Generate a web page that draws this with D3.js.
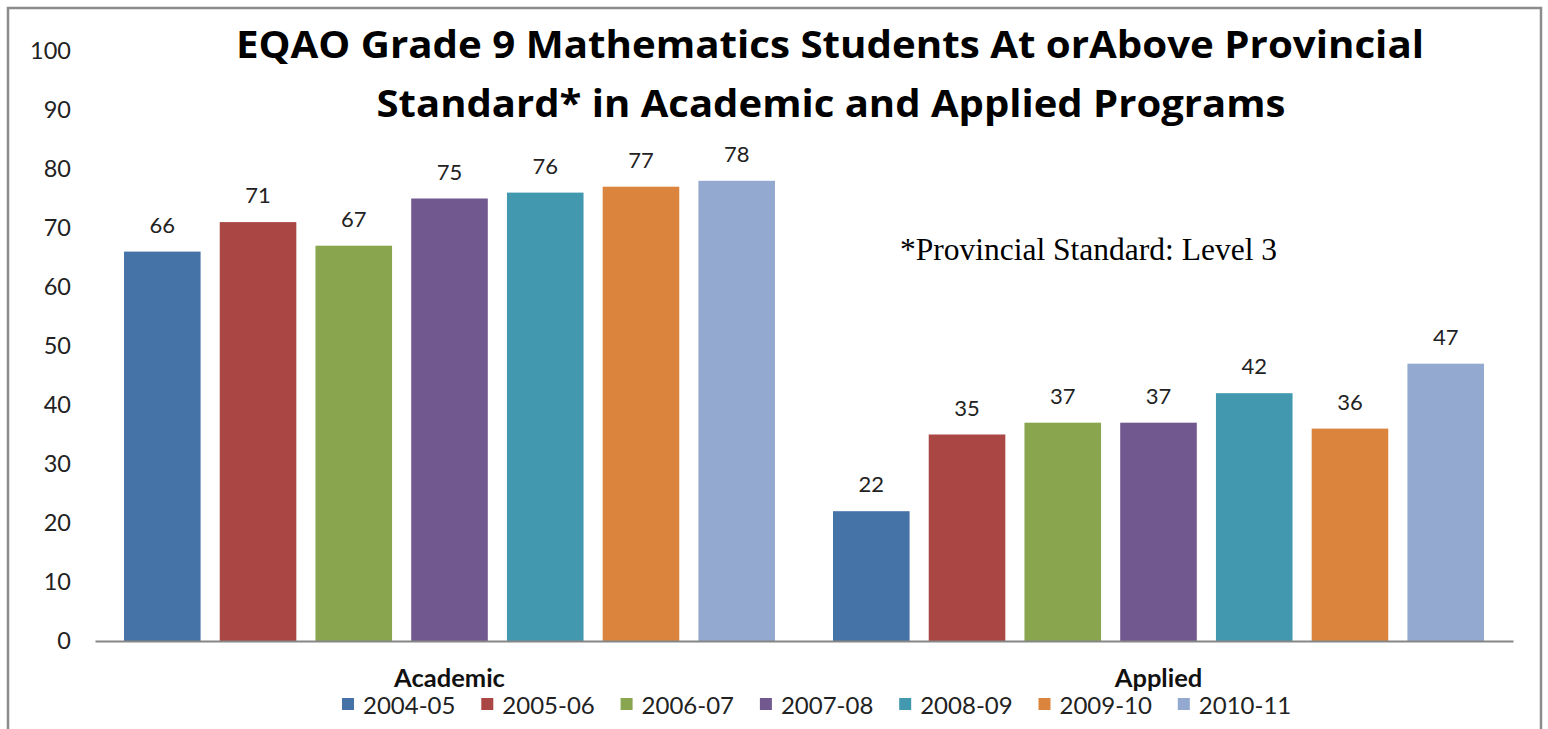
<!DOCTYPE html>
<html>
<head>
<meta charset="utf-8">
<script src="https://cdn.jsdelivr.net/npm/d3@7"></script>
<style>
  body { margin: 0; background: #fff; }
  svg { display: block; }
</style>
</head>
<body>
<div id="app"></div>
<script>
// data
const programs = ['Academic', 'Applied'];
const years = ['2004-05', '2005-06', '2006-07', '2007-08', '2008-09', '2009-10', '2010-11'];
const academic = [66, 71, 67, 75, 76, 77, 78];
const applied = [22, 35, 37, 37, 42, 36, 47];
const yTicks = [0, 10, 20, 30, 40, 50, 60, 70, 80, 90, 100];
const colors = ['#4572A7', '#AA4643', '#89A54E', '#71588F', '#4198AF', '#DB843D', '#93A9CF'];

const rows = [academic, applied];

const W = 1548, H = 729;
const svg = d3.select('#app').append('svg').attr('width', W).attr('height', H);

// outer frame (bottom edge runs off the picture)
svg.append('path')
  .attr('d', `M8,${H + 5} V8 H1541 V${H + 5}`)
  .attr('fill', 'none')
  .attr('stroke', '#8c8c8c')
  .attr('stroke-width', 2.5);

const x0 = d3.scaleBand().domain(programs).range([95, 1513]);
const x1 = d3.scaleBand().domain(years).range([29, x0.bandwidth() - 29]).paddingInner(0.2);
const y = d3.scaleLinear().domain([0, 100]).range([641, 51]);

const color = d3.scaleOrdinal().domain(years).range(colors);

// y tick labels, no axis line
const yAxis = d3.axisLeft(y).tickValues(yTicks).tickSize(0).tickPadding(0);
const gy = svg.append('g').attr('transform', 'translate(71,0)').call(yAxis);
gy.select('.domain').remove();
gy.selectAll('text')
  .attr('font-family', 'Lato, sans-serif')
  .attr('font-size', '23.5px')
  .attr('fill', '#222');

// bars
const groups = svg.append('g').selectAll('g')
  .data(programs)
  .join('g')
  .attr('transform', d => `translate(${x0(d)},0)`);

groups.selectAll('rect')
  .data((d, i) => rows[i].map((v, j) => ({ year: years[j], value: v })))
  .join('rect')
  .attr('x', d => x1(d.year))
  .attr('y', d => y(d.value))
  .attr('width', x1.bandwidth())
  .attr('height', d => y(0) - y(d.value))
  .attr('fill', d => color(d.year));

groups.selectAll('text.val')
  .data((d, i) => rows[i].map((v, j) => ({ year: years[j], value: v })))
  .join('text')
  .attr('class', 'val')
  .attr('x', d => x1(d.year) + x1.bandwidth() / 2)
  .attr('y', d => y(d.value) - 19)
  .attr('text-anchor', 'middle')
  .attr('font-family', 'Lato, sans-serif')
  .attr('font-size', '22px')
  .attr('fill', '#222')
  .text(d => d.value);

// x axis: just the baseline and the category names
const xAxis = d3.axisBottom(x0).tickSize(0).tickPadding(0);
const gx = svg.append('g').attr('transform', `translate(0,${y(0)})`).call(xAxis);
gx.select('.domain').attr('stroke', '#868686').attr('stroke-width', 2);
gx.selectAll('text')
  .attr('dy', null)
  .attr('y', 46)
  .attr('font-family', 'Lato, sans-serif')
  .attr('font-weight', '700')
  .attr('font-size', '25.5px')
  .attr('fill', '#111');

// title
const title = svg.append('g')
  .attr('font-family', "'Open Sans', sans-serif")
  .attr('font-weight', '700')
  .attr('font-size', '38px')
  .attr('fill', '#000')
  .attr('text-anchor', 'middle');
title.append('text').attr('x', 830).attr('y', 58)
  .attr('textLength', 1188).attr('lengthAdjust', 'spacingAndGlyphs')
  .text('EQAO Grade 9 Mathematics Students At orAbove Provincial');
title.append('text').attr('x', 831).attr('y', 117)
  .attr('textLength', 909).attr('lengthAdjust', 'spacingAndGlyphs')
  .text('Standard* in Academic and Applied Programs');

// note
svg.append('text')
  .attr('x', 900).attr('y', 260)
  .attr('font-family', "'Liberation Serif', 'Times New Roman', serif")
  .attr('font-size', '31.5px')
  .attr('fill', '#000')
  .text('*Provincial Standard: Level 3');

// legend
const legend = svg.append('g').selectAll('g')
  .data(years)
  .join('g')
  .attr('transform', (d, i) => `translate(${342 + i * 139.3},698)`);
legend.append('rect')
  .attr('width', 12).attr('height', 12)
  .attr('fill', d => color(d));
legend.append('text')
  .attr('x', 21).attr('y', 16)
  .attr('font-family', 'Lato, sans-serif')
  .attr('font-size', '24px')
  .attr('fill', '#222')
  .text(d => d);
</script>
</body>
</html>
